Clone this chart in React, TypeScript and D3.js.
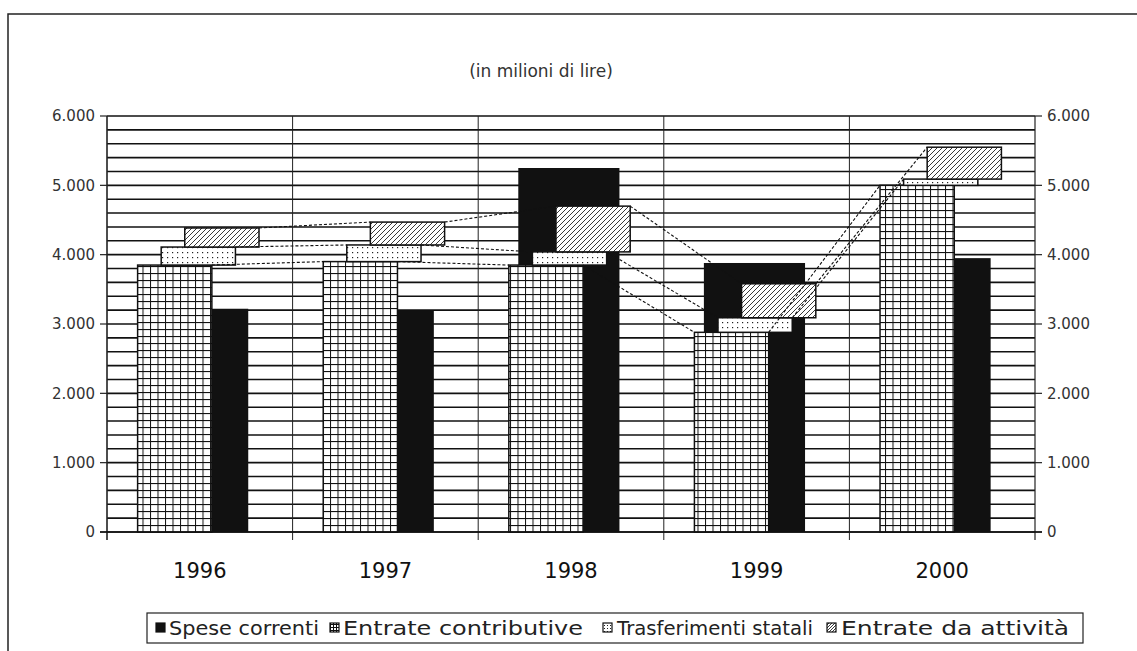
import React from 'react';
import * as d3 from 'd3';

// values in millions of lire
const years = ['1996', '1997', '1998', '1999', '2000'];
const speseCorrenti = [3220, 3200, 5250, 3880, 3950];
const entrateContributive = [3850, 3900, 3850, 2880, 5000];
const trasferimentiStatali = [260, 240, 190, 210, 90];
const entrateAttivita = [275, 330, 660, 490, 460];
const yTicks = [0, 1000, 2000, 3000, 4000, 5000, 6000];

const legendLabels = ['Spese correnti', 'Entrate contributive', 'Trasferimenti statali', 'Entrate da attività'];

const W = 1137;
const H = 651;

const itFormat = d3.formatLocale({ decimal: ',', thousands: '.', grouping: [3], currency: ['', '€'] }).format(',d');

const App: React.FC = () => {
  const x = d3.scaleBand<string>().domain(years).range([107, 1035]).paddingInner(0).paddingOuter(0);
  const y = d3.scaleLinear().domain([0, 6000]).range([532, 116]);
  const bw = x.bandwidth();

  const rows = years.map((yr, i) => ({
    year: yr,
    contributive: entrateContributive[i],
    trasferimenti: trasferimentiStatali[i],
    attivita: entrateAttivita[i],
  }));
  const keys = ['contributive', 'trasferimenti', 'attivita'];
  const stacked = d3.stack<any>().keys(keys)(rows);
  const fills = ['url(#grid)', 'url(#dots)', 'url(#hatch)'];

  // each stacked layer is shifted to the right, like the scan shows
  const layerLeft = (yr: string, k: number) => (x(yr) as number) + bw * (0.165 + k * 0.127);
  const layerW = bw * 0.4;
  const blackLeft = (yr: string) => (x(yr) as number) + bw * 0.216;
  const blackW = bw * 0.545;

  const minorTicks = d3.range(0, 6001, 200);

  const legendPos = [
    { sx: 156, tx: 169, tw: 150 },
    { sx: 330, tx: 343, tw: 240 },
    { sx: 603, tx: 617, tw: 196 },
    { sx: 827, tx: 841, tw: 228 },
  ];
  const legendFills = ['#111', 'url(#gridS)', 'url(#dotsS)', 'url(#hatchS)'];

  return (
    <svg width={W} height={H} style={{ position: 'absolute', left: 0, top: 0, background: '#fff' }}
      fontFamily="'DejaVu Sans', sans-serif">
      <defs>
        <pattern id="grid" patternUnits="userSpaceOnUse" width={7.5} height={7}>
          <rect width={7.5} height={7} fill="#fff" />
          <line x1={0.5} x2={0.5} y1={0} y2={7} stroke="#111" strokeWidth={1} />
          <line x1={0} x2={7.5} y1={0.5} y2={0.5} stroke="#111" strokeWidth={1.2} />
        </pattern>
        <pattern id="dots" patternUnits="userSpaceOnUse" width={5} height={5}>
          <rect width={5} height={5} fill="#fff" />
          <rect x={2} y={2} width={1.2} height={1.2} fill="#222" />
        </pattern>
        <pattern id="hatch" patternUnits="userSpaceOnUse" width={5} height={5}>
          <rect width={5} height={5} fill="#fff" />
          <path d="M-1,1 l2,-2 M0,5 l5,-5 M4,6 l2,-2" stroke="#222" strokeWidth={0.9} />
        </pattern>
        <pattern id="gridS" patternUnits="userSpaceOnUse" width={3} height={3}>
          <rect width={3} height={3} fill="#fff" />
          <path d="M0.5,0 v3 M0,0.5 h3" stroke="#111" strokeWidth={1} />
        </pattern>
        <pattern id="dotsS" patternUnits="userSpaceOnUse" width={3} height={3}>
          <rect width={3} height={3} fill="#fff" />
          <rect x={1} y={1} width={1} height={1} fill="#222" />
        </pattern>
        <pattern id="hatchS" patternUnits="userSpaceOnUse" width={3} height={3}>
          <rect width={3} height={3} fill="#fff" />
          <path d="M0,3 l3,-3" stroke="#222" strokeWidth={0.9} />
        </pattern>
      </defs>

      {/* outer frame */}
      <path d="M8,651 V14 H1137" fill="none" stroke="#222" strokeWidth={1.5} />

      <text x={541} y={77} textAnchor="middle" fontSize={17} fill="#333">(in milioni di lire)</text>

      {/* horizontal gridlines */}
      {minorTicks.map(t => (
        <line key={'g' + t} x1={107} x2={1035} y1={y(t)} y2={y(t)} stroke="#111" strokeWidth={1.6} />
      ))}
      {/* vertical gridlines / category ticks */}
      {years.map(yr => (
        <line key={'v' + yr} x1={x(yr)} x2={x(yr)} y1={116} y2={540} stroke="#222" strokeWidth={1} />
      ))}
      <line x1={1035} x2={1035} y1={116} y2={540} stroke="#222" strokeWidth={1.2} />
      <line x1={107} x2={107} y1={116} y2={540} stroke="#222" strokeWidth={1.2} />

      {/* y axes ticks and labels */}
      {yTicks.map(t => (
        <g key={'t' + t}>
          <line x1={100} x2={107} y1={y(t)} y2={y(t)} stroke="#222" strokeWidth={1.2} />
          <line x1={1035} x2={1042} y1={y(t)} y2={y(t)} stroke="#222" strokeWidth={1.2} />
          <text x={95} y={y(t)} dy="0.35em" textAnchor="end" fontSize={15} fill="#333">{itFormat(t)}</text>
          <text x={1047} y={y(t)} dy="0.35em" textAnchor="start" fontSize={15} fill="#333">{itFormat(t)}</text>
        </g>
      ))}

      {/* Spese correnti - wide black bar behind */}
      {years.map((yr, i) => (
        <rect key={'b' + yr} x={blackLeft(yr)} width={blackW} y={y(speseCorrenti[i])}
          height={y(0) - y(speseCorrenti[i])} fill="#111" />
      ))}

      {/* stacked entrate */}
      {stacked.map((layer, k) => (
        <g key={'s' + k}>
          {layer.map((d, i) => (
            <rect key={years[i]} x={layerLeft(years[i], k)} width={layerW}
              y={y(d[1])} height={Math.max(0, y(d[0]) - y(d[1]))}
              fill={fills[k]} stroke="#111" strokeWidth={1.5} />
          ))}
        </g>
      ))}

      {/* series lines */}
      {stacked.map((layer, k) => (
        <g key={'l' + k}>
          {layer.slice(0, -1).map((d, i) => {
            const nxt = layer[i + 1];
            return (
              <line key={i} x1={layerLeft(years[i], k) + layerW} y1={y(d[1])}
                x2={layerLeft(years[i + 1], k)} y2={y(nxt[1])}
                stroke="#111" strokeWidth={1.1} strokeDasharray="3,2" />
            );
          })}
        </g>
      ))}

      <line x1={100} x2={1042} y1={y(0)} y2={y(0)} stroke="#111" strokeWidth={1.5} />

      {/* category labels */}
      {years.map(yr => (
        <text key={'c' + yr} x={(x(yr) as number) + bw / 2} y={578} textAnchor="middle" fontSize={21} fill="#111">{yr}</text>
      ))}

      {/* legend */}
      <rect x={147} y={613} width={936} height={30} fill="#fff" stroke="#222" strokeWidth={1.2} />
      {legendLabels.map((lab, i) => (
        <g key={'lg' + i}>
          <rect x={legendPos[i].sx} y={623} width={9} height={9} fill={legendFills[i]} stroke="#111" strokeWidth={1.2} />
          <text x={legendPos[i].tx} y={635} fontSize={20} fill="#222"
            textLength={legendPos[i].tw} lengthAdjust="spacingAndGlyphs">{lab}</text>
        </g>
      ))}
    </svg>
  );
};

export default App;
